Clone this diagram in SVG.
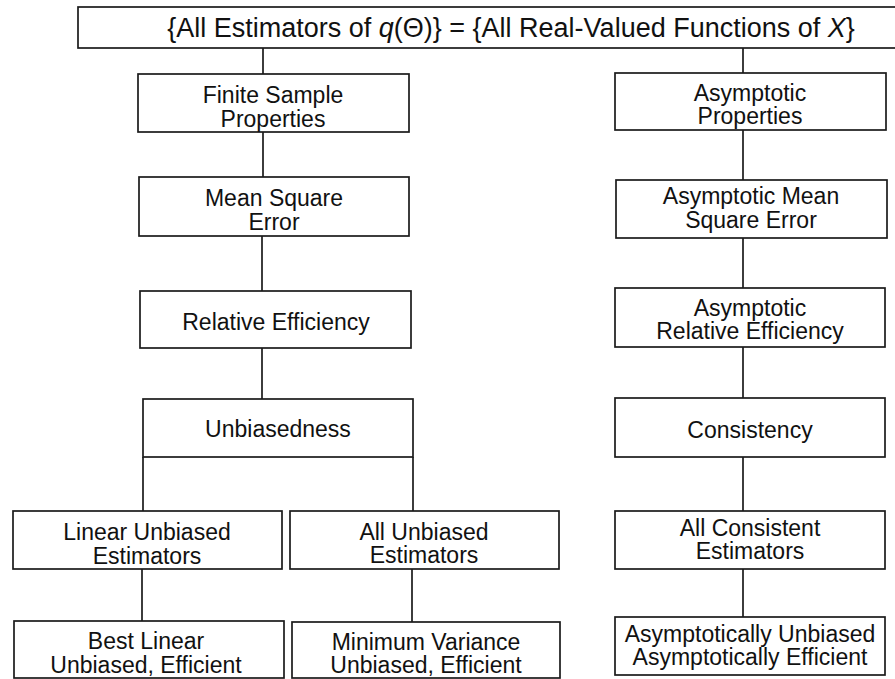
<svg xmlns="http://www.w3.org/2000/svg" width="895" height="679" viewBox="0 0 895 679">
  <style>
    .box { fill: #ffffff; stroke: #1a1a1a; stroke-width: 1.7; }
    .link { fill: none; stroke: #1a1a1a; stroke-width: 1.7; }
    text { font-family: "Liberation Sans", Arial, sans-serif; font-size: 23px; fill: #111111; text-anchor: middle; }
    .title { font-size: 27px; }
    .it { font-style: italic; }
  </style>
  <rect width="895" height="679" fill="#ffffff"/>

  <!-- connectors -->
  <g id="connectors">
    <line class="link" x1="263" y1="48" x2="263" y2="74"/>
    <line class="link" x1="743" y1="48" x2="743" y2="73"/>
    <line class="link" x1="263" y1="132" x2="263" y2="177"/>
    <line class="link" x1="743" y1="130" x2="743" y2="180"/>
    <line class="link" x1="262" y1="236" x2="262" y2="291"/>
    <line class="link" x1="743" y1="238" x2="743" y2="288"/>
    <line class="link" x1="262" y1="348" x2="262" y2="399"/>
    <line class="link" x1="743" y1="347" x2="743" y2="398"/>
    <line class="link" x1="143" y1="457" x2="143" y2="511"/>
    <line class="link" x1="413" y1="457" x2="413" y2="511"/>
    <line class="link" x1="743" y1="457" x2="743" y2="511"/>
    <line class="link" x1="142" y1="569" x2="142" y2="621"/>
    <line class="link" x1="412" y1="569" x2="412" y2="622"/>
    <line class="link" x1="743" y1="569" x2="743" y2="617"/>
  </g>

  <!-- root -->
  <g id="root">
    <rect class="box" x="78" y="7" width="830" height="41"/>
    <text class="title" x="511" y="37">{All Estimators of <tspan class="it">q</tspan>(Θ)} = {All Real-Valued Functions of <tspan class="it">X</tspan>}</text>
  </g>

  <!-- finite-sample branch -->
  <g id="finite-sample">
    <rect class="box" x="138" y="74" width="271" height="58"/>
    <text x="273" y="103">Finite Sample</text>
    <text x="273" y="127">Properties</text>
  </g>
  <g id="mse">
    <rect class="box" x="139" y="177" width="270" height="59"/>
    <text x="274" y="206">Mean Square</text>
    <text x="274" y="230">Error</text>
  </g>
  <g id="relative-efficiency">
    <rect class="box" x="140" y="291" width="271" height="57"/>
    <text x="276" y="330">Relative Efficiency</text>
  </g>
  <g id="unbiasedness">
    <rect class="box" x="143" y="399" width="270" height="58"/>
    <text x="278" y="437">Unbiasedness</text>
  </g>
  <g id="linear-unbiased">
    <rect class="box" x="13" y="511" width="269" height="58"/>
    <text x="147" y="540">Linear Unbiased</text>
    <text x="147" y="564">Estimators</text>
  </g>
  <g id="all-unbiased">
    <rect class="box" x="290" y="511" width="269" height="58"/>
    <text x="424" y="540">All Unbiased</text>
    <text x="424" y="563">Estimators</text>
  </g>
  <g id="blue">
    <rect class="box" x="14" y="621" width="270" height="57"/>
    <text x="146" y="649">Best Linear</text>
    <text x="146" y="673">Unbiased, Efficient</text>
  </g>
  <g id="mvue">
    <rect class="box" x="292" y="622" width="268" height="56"/>
    <text x="426" y="650">Minimum Variance</text>
    <text x="426" y="673">Unbiased, Efficient</text>
  </g>

  <!-- asymptotic branch -->
  <g id="asymptotic">
    <rect class="box" x="615" y="73" width="271" height="57"/>
    <text x="750" y="101">Asymptotic</text>
    <text x="750" y="124">Properties</text>
  </g>
  <g id="asymptotic-mse">
    <rect class="box" x="616" y="180" width="271" height="58"/>
    <text x="751" y="204">Asymptotic Mean</text>
    <text x="751" y="228">Square Error</text>
  </g>
  <g id="asymptotic-relative-efficiency">
    <rect class="box" x="615" y="288" width="270" height="59"/>
    <text x="750" y="316">Asymptotic</text>
    <text x="750" y="339">Relative Efficiency</text>
  </g>
  <g id="consistency">
    <rect class="box" x="615" y="398" width="270" height="59"/>
    <text x="750" y="438">Consistency</text>
  </g>
  <g id="all-consistent">
    <rect class="box" x="615" y="511" width="270" height="58"/>
    <text x="750" y="536">All Consistent</text>
    <text x="750" y="559">Estimators</text>
  </g>
  <g id="asymptotically-efficient">
    <rect class="box" x="615" y="617" width="270" height="58"/>
    <text x="750" y="642">Asymptotically Unbiased</text>
    <text x="750" y="665">Asymptotically Efficient</text>
  </g>
</svg>
